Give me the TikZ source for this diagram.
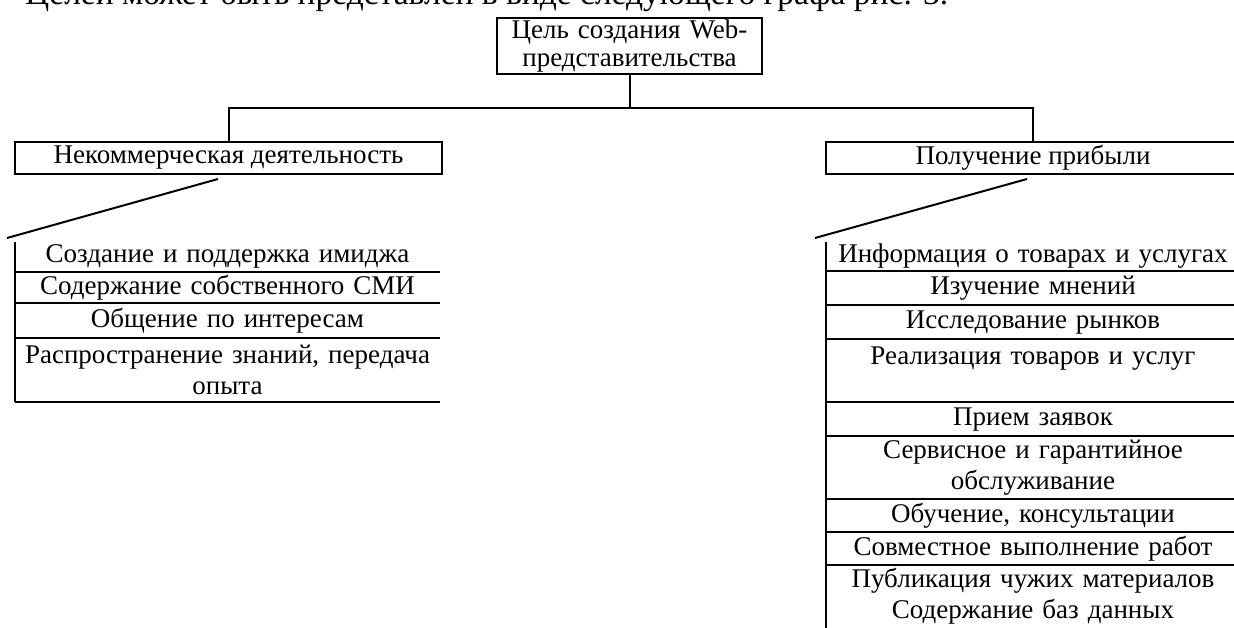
\documentclass[tikz,border=0pt]{standalone}
\usepackage{fontspec}
\setmainfont{Liberation Serif}
\begin{document}
\begin{tikzpicture}[x=1pt,y=-1pt,
  every node/.style={font=\fontsize{27}{31}\selectfont},
  ln/.style={line width=2pt},
  boxnode/.style={draw, line width=2pt, inner sep=0pt, minimum height=32pt},
  lrow/.style={minimum width=425pt, text width=410pt, align=center, inner sep=0pt, anchor=north},
  rrow/.style={minimum width=414pt, text width=410pt, align=center, inner sep=0pt, anchor=north}]
\useasboundingbox (0,0) rectangle (1234,627);
% clipped body text line at top
\node[anchor=base west, inner sep=0pt, font=\fontsize{33.5}{38}\selectfont] (intro) at (25,4) {Целей может быть представлен в виде следующего графа рис. 3.};
% title
\node[draw, line width=2pt, minimum width=265pt, minimum height=56pt, text width=262pt, align=center, inner sep=0pt, anchor=north, font=\fontsize{27}{27.5}\selectfont] (title) at (629.5,17) {Цель создания Web-\\представительства};
% second level
\node[boxnode, minimum width=427pt] (lbox) at (228.5,158) {Некоммерческая деятельность};
\node[boxnode, minimum width=414pt] (rbox) at (1033,158) {Получение прибыли};
\coordinate (bus) at (title.south |- 0,108);
\draw[ln] (title.south) -- (bus);
\draw[ln] (lbox.north) |- (bus) -| (rbox.north);
% slanted strokes
\coordinate (lsa) at (218,179);
\coordinate (lsb) at (7,238);
\coordinate (rsa) at (1027,179);
\coordinate (rsb) at (815,238);
\draw[ln] (lsa) -- (lsb);
\draw[ln] (rsa) -- (rsb);
% left list
\node[lrow, minimum height=32pt] (L1) at (227.5,240) {Создание и поддержка имиджа};
\node[lrow, minimum height=31pt] (L2) at (227.5,272) {Содержание собственного СМИ};
\node[lrow, minimum height=35pt] (L3) at (227.5,303) {Общение по интересам};
\node[lrow, minimum height=64pt] (L4) at (227.5,338) {Распространение знаний, передача\\опыта};
\draw[ln] ([yshift=-2pt]L1.north west) -- (L4.south west);
\foreach \r in {L1,L2,L3,L4} \draw[ln] (\r.south west) -- (\r.south east);
% right list
\node[rrow, minimum height=31pt] (R1) at (1033,240) {Информация о товарах и услугах};
\node[rrow, minimum height=34pt] (R2) at (1033,271) {Изучение мнений};
\node[rrow, minimum height=34pt] (R3) at (1033,305) {Исследование рынков};
\node[rrow, minimum height=63pt] (R4) at (1033,339) {Реализация товаров и услуг\\\mbox{}};
\node[rrow, minimum height=34pt] (R5) at (1033,402) {Прием заявок};
\node[rrow, minimum height=63pt] (R6) at (1033,436) {Сервисное и гарантийное\\обслуживание};
\node[rrow, minimum height=33pt] (R7) at (1033,499) {Обучение, консультации};
\node[rrow, minimum height=33pt] (R8) at (1033,532) {Совместное выполнение работ};
\node[rrow, minimum height=63pt] (R9) at (1033,565) {Публикация чужих материалов\\Содержание баз данных};
\draw[ln] ([yshift=-2pt]R1.north west) -- (R9.south west);
\foreach \r in {R1,R2,R3,R4,R5,R6,R7,R8} \draw[ln] (\r.south west) -- (\r.south east);
\end{tikzpicture}
\end{document}
